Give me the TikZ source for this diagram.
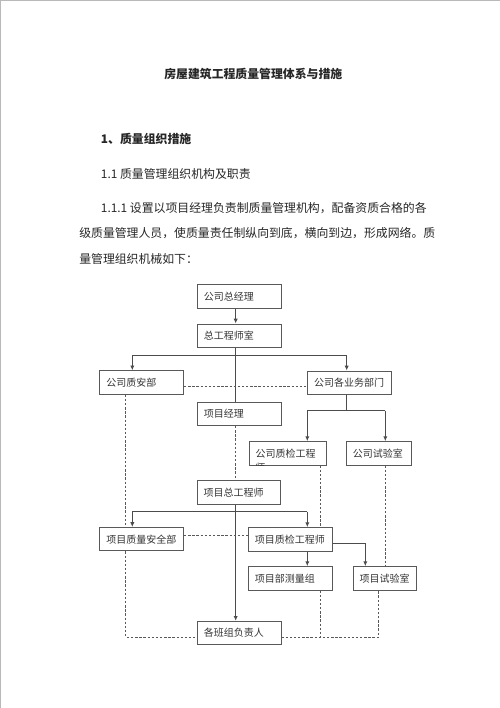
\documentclass[tikz,border=0pt]{standalone}
\usepackage{fontspec}
\setmainfont{Noto Sans CJK SC}
\usetikzlibrary{arrows.meta}
\begin{document}
\begin{tikzpicture}[x=0.75pt, y=-0.75pt,
		box/.style={draw=black!65, line width=0.7pt, text width=#1, align=left, inner xsep=4.9pt, inner ysep=0pt, minimum height=17.6pt, text=black!80, font=\fontsize{7.5}{9}\selectfont},
		box/.default=53pt,
		body/.style={anchor=west, inner sep=0pt, text=black!85, font=\fontsize{8.9}{10}\selectfont},
		ln/.style={draw=black!70, line width=0.7pt},
		arr/.style={ln, -{Latex[length=3.6pt,width=3.2pt]}},
		dsh/.style={draw=black!65, line width=0.7pt, dash pattern=on 1.8pt off 1.3pt}
		]
	\useasboundingbox (0,0) rectangle (500,708);
	\draw [gray!55, line width=0.75pt] (0.5,708) -- (0.5,0.5) -- (500,0.5);

	\node [body, anchor=center, font=\fontsize{8.9}{10}\selectfont\bfseries] (title) at (253.3,74) {房屋建筑工程质量管理体系与措施};
	\node [body, font=\fontsize{8.9}{10}\selectfont\bfseries] (sec) at (100.7,139) {1、质量组织措施};
	\node [body] (sub) at (100.7,174) {1.1 质量管理组织机构及职责};
	\node [body] (par1) at (100.7,208) {1.1.1 设置以项目经理负责制质量管理机构，配备资质合格的各};
	\node [body] (par2) at (79,232.7) {级质量管理人员，使质量责任制纵向到底，横向到边，形成网络。质};
	\node [body] (par3) at (79,259) {量管理组织机械如下：};

	\node [box] (gm) at (239.2,296.5) {公司总经理};
	\node [box] (cce) at (239.2,335.7) {总工程师室};
	\node [box] (qsd) at (141.7,382.5) {公司质安部};
	\node [box] (bd) at (349.5,382.7) {公司各业务部门};
	\node [box] (pm) at (239.2,413.8) {项目经理};
	\node [box=48.1pt] (cqe) at (287.7,453.3) {公司质检工程};
	\node [box=39.1pt] (clab) at (379,453.3) {公司试验室};
	\node [box] (pce) at (239,492.3) {项目总工程师};
	\node [box] (pqs) at (141.7,539.2) {项目质量安全部};
	\node [box] (pqe) at (290.3,539.3) {项目质检工程师};
	\node [box] (sur) at (290.3,578.3) {项目部测量组};
	\node [box=37.6pt] (plab) at (384.7,578.3) {项目试验室};
	\node [box] (team) at (239.2,633) {各班组负责人};

	\begin{scope}
		\clip (cqe.south west) rectangle (cqe.north east);
		\node [body, anchor=north west, font=\fontsize{7.5}{9}\selectfont, text=black!80] (cqe2) at (255.2,462.6) {师};
	\end{scope}

	\coordinate (stem) at (235.7,0);
	\coordinate (ka) at (132.3,355.3);
	\coordinate (kb) at (346.7,355.3);
	\coordinate (kc) at (307.3,410.7);
	\coordinate (kd) at (385.3,410.7);
	\coordinate (ke) at (132.3,511.7);
	\coordinate (kf) at (307.3,511.7);
	\coordinate (kg) at (365.3,543.3);
	\coordinate (dq) at (0,386.7);
	\coordinate (dp) at (0,535.3);
	\coordinate (dl) at (125.7,637);
	\coordinate (dm) at (320,637);
	\coordinate (dr) at (378.7,637);

	\draw [arr] (gm.south -| stem) -- (cce.north -| stem);
	\draw [ln] (cce.south -| stem) -- (pm.north -| stem);
	\draw [ln] (ka) -- (kb);
	\draw [arr] (ka) -- (ka |- qsd.north);
	\draw [arr] (kb) -- (kb |- bd.north);
	\draw [ln] (bd.south -| kb) -- (kb |- kc);
	\draw [ln] (kc) -- (kd);
	\draw [arr] (kc) -- (kc |- cqe.north);
	\draw [arr] (kd) -- (kd |- clab.north);
	\draw [dsh] (pm.south -| stem) -- (pce.north -| stem);
	\draw [arr] (pce.south -| stem) -- (team.north -| stem);
	\draw [ln] (ke) -- (kf);
	\draw [arr] (ke) -- (ke |- pqs.north);
	\draw [arr] (kf) -- (kf |- pqe.north);
	\draw [arr] (pqe.east |- kg) -| (plab.north -| kg);
	\draw [arr] (pqe.south -| kf) -- (sur.north -| kf);

	\draw [dsh] (qsd.east |- dq) -- (bd.west |- dq);
	\draw [dsh] (pqs.east |- dp) -- (pqe.west |- dp);
	\draw [dsh] (qsd.south -| dl) -- (pqs.north -| dl);
	\draw [dsh] (pqs.south -| dl) -- (dl) -- (team.west |- dl);
	\draw [dsh] (team.east |- dr) -- (dr) -- (plab.south -| dr);
	\draw [dsh] (sur.south -| dm) -- (dm);
	\draw [dsh] (cqe.south -| dm) -- (pqe.north -| dm);
	\draw [dsh] (clab.south -| kd) -- (plab.north -| kd);
\end{tikzpicture}
\end{document}
